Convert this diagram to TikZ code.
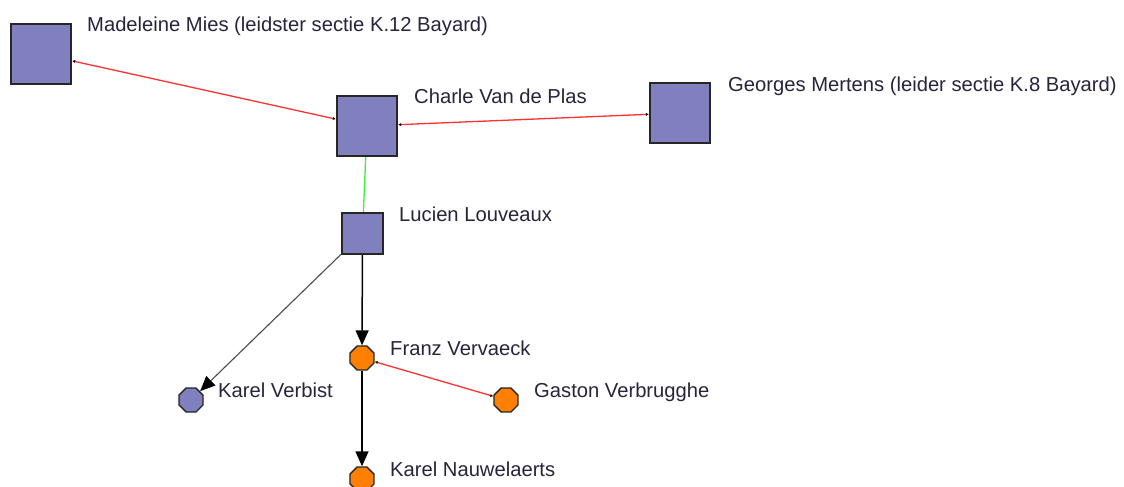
\documentclass[tikz,border=0pt]{standalone}
\usepackage{fontspec}
\setmainfont{Liberation Sans}
\usetikzlibrary{arrows.meta,shapes.geometric}
\definecolor{boxblue}{RGB}{128,128,190}
\definecolor{dotorange}{RGB}{255,128,0}
\definecolor{linkred}{RGB}{255,50,50}
\definecolor{linkgreen}{RGB}{60,240,60}
\definecolor{labeltext}{RGB}{40,36,60}
\begin{document}
\begin{tikzpicture}[x=1pt,y=-1pt,
    big/.style={draw=black!85,line width=1.7pt,fill=boxblue,minimum size=60.5pt,inner sep=0pt},
    small/.style={big,minimum size=41.5pt},
    dot/.style={regular polygon,regular polygon sides=8,draw=black!85,line width=1.4pt,minimum size=26pt,inner sep=0pt},
    lbl/.style={anchor=base west,text=labeltext,font=\fontsize{20.2}{24}\selectfont,inner sep=0pt},
    tie/.style={linkred,line width=1.3pt,{Latex[length=3pt,width=3pt,color=black]}-{Latex[length=3pt,width=3pt,color=black]}},
    lead/.style={line width=1.5pt,-{Triangle[length=15pt,width=13pt,color=black]}}]
    \fill[white] (0,0) rectangle (1124,487);
    \useasboundingbox (0,0) rectangle (1124,487);

    % People %
    \node[big] (madeleine) at (41,54) {};
    \node[big] (charle) at (367,126) {};
    \node[big] (georges) at (680,113) {};
    \node[small] (lucien) at (362.5,233.5) {};
    \node[dot,fill=dotorange] (franz) at (362,358) {};
    \node[dot,fill=boxblue] (verbist) at (191,400) {};
    \node[dot,fill=dotorange] (gaston) at (506,400) {};
    \node[dot,fill=dotorange] (nauwelaerts) at (362,479) {};

    % Names %
    \node[lbl] (madeleineL) at (87,32) {Madeleine Mies (leidster sectie K.12 Bayard)};
    \node[lbl] (charleL) at (414,103) {Charle Van de Plas};
    \node[lbl] (georgesL) at (728,91) {Georges Mertens (leider sectie K.8 Bayard)};
    \node[lbl] (lucienL) at (399,221.5) {Lucien Louveaux};
    \node[lbl] (franzL) at (390,355.5) {Franz Vervaeck};
    \node[lbl] (verbistL) at (218,397) {Karel Verbist};
    \node[lbl] (gastonL) at (534,397) {Gaston Verbrugghe};
    \node[lbl] (nauwelaertsL) at (390,476) {Karel Nauwelaerts};

    % Links %
    \draw[tie] (madeleine) -- (charle);
    \draw[tie] (georges) -- (charle);
    \draw[linkgreen,line width=1.3pt] (charle) -- (lucien);
    \draw[lead,black!70,line width=1.1pt] (lucien) -- (verbist);
    \draw[lead] (lucien) -- (franz);
    \draw[lead] (franz) -- (nauwelaerts);
    \draw[tie] (franz) -- (gaston);
\end{tikzpicture}
\end{document}
